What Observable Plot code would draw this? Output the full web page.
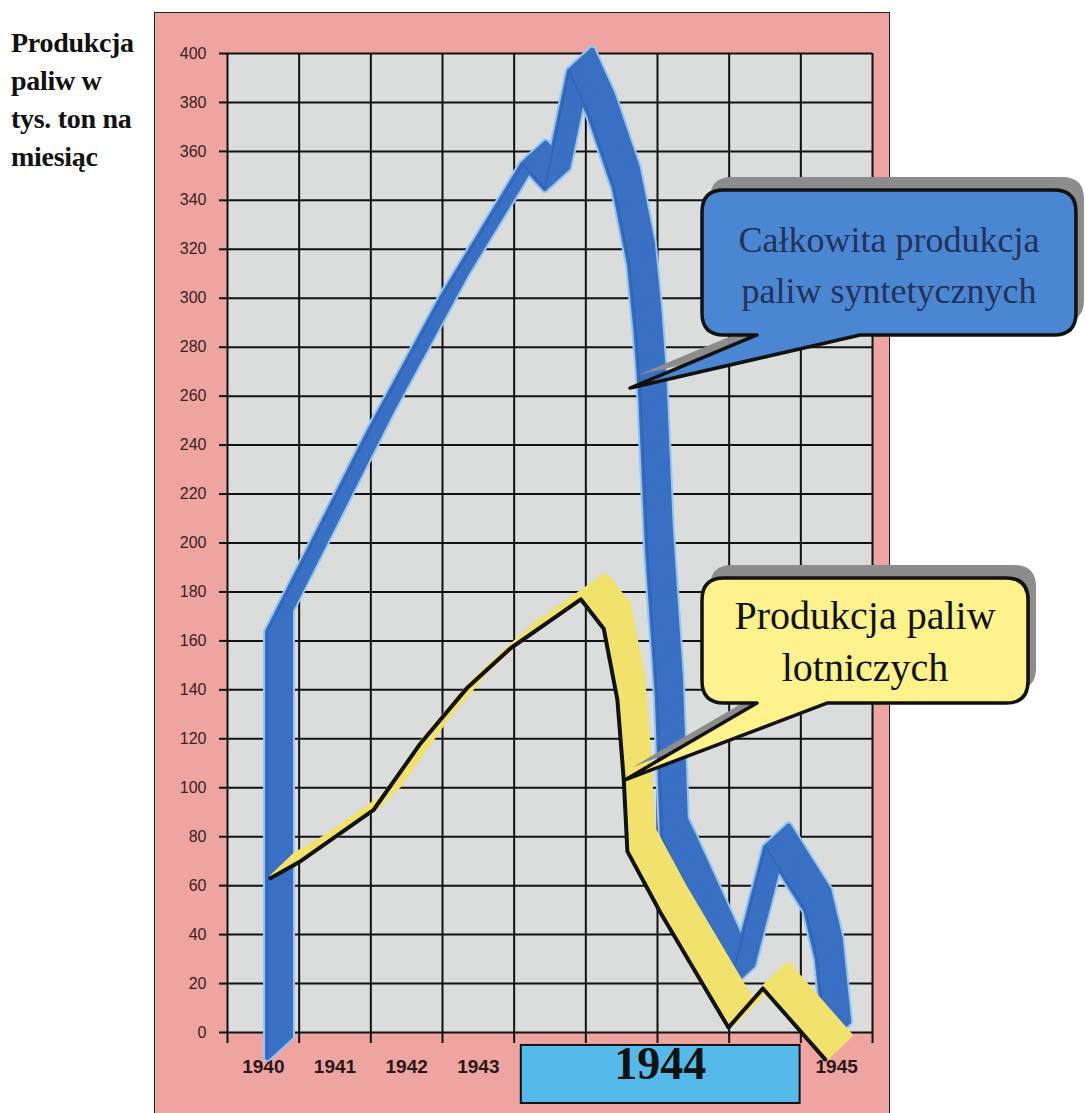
<!DOCTYPE html>
<html><head><meta charset="utf-8">
<script src="https://cdn.jsdelivr.net/npm/d3@7"></script>
<script src="https://cdn.jsdelivr.net/npm/@observablehq/plot@0.6"></script>
<style>
html,body{margin:0;padding:0;background:#fff;overflow:hidden}
#wrap{position:relative;width:1085px;height:1113px}
#panel{position:absolute;left:154px;top:12px;width:734px;height:1120px;background:#eea4a1;border:1.5px solid #222;border-bottom:none}
#title{position:absolute;left:11px;top:24px;font-family:"Liberation Serif",serif;font-weight:bold;font-size:28px;line-height:38px;color:#111;letter-spacing:-0.3px}
#chart{position:absolute;left:0;top:0}
</style></head><body>
<div id="wrap"><div id="panel"></div><div id="title">Produkcja<br>paliw w<br>tys. ton na<br>miesiąc</div><div id="chart"></div></div>
<script>
// x in "column" units: 1940..1943 one column each, 1944 four columns, 1945 one column
const colEdges = [0,1,2,3,4,5,6,7,8,9];
const yTicks = [0,20,40,60,80,100,120,140,160,180,200,220,240,260,280,300,320,340,360,380,400];
const yearLabels = ["1940","1941","1942","1943","1945"];
const yearPos = [0.5,1.5,2.5,3.5,8.5];
const bigYear = "1944";
const bigYearSpan = [4, 8];

// Całkowita produkcja paliw syntetycznych (front edge of ribbon)
const totalX = [0.53,0.53,1.95,2.97,4.09,4.40,4.74,5.02,5.37,5.58,5.67,5.74,5.83,5.97,6.04,6.14,6.98,7.48,8.04,8.20,8.32];
const totalY = [-11,163,245,300,354,344,392,374,344,313,286,258,197,136,78,72,18,75,49,29,-5];
// Produkcja paliw lotniczych
const aviaX = [0.60,1.02,2.04,2.69,3.35,3.95,4.93,5.25,5.44,5.53,5.58,6.04,6.99,7.47,8.34];
const aviaY = [63,70,91,118,141,157,177,165,136,103,74,49,2,18,-11];

const labelTotal = ["Całkowita produkcja", "paliw syntetycznych"];
const labelAvia = ["Produkcja paliw", "lotniczych"];

const total = totalX.map((x,i)=>({x, y: totalY[i]}));
const avia = aviaX.map((x,i)=>({x, y: aviaY[i]}));

function ribbon(data, color, w, x0, y0, x1, y1, n) {
  return d3.range(n+1).map(k => Plot.line(data, {
    x: "x", y: "y", stroke: color, strokeWidth: w,
    strokeLinejoin: "round", strokeLinecap: "round",
    dx: x0 + (x1-x0)*k/n, dy: y0 + (y1-y0)*k/n
  }));
}

const plot = Plot.plot({
  width: 1085, height: 1113,
  marginLeft: 227, marginRight: 213, marginTop: 53, marginBottom: 81,
  x: {domain: [0, 9], label: null},
  y: {domain: [0, 400], label: null},
  style: {background: "transparent", fontFamily: "Liberation Sans, Arial, sans-serif", overflow: "visible"},
  marks: [
    Plot.frame({fill: "#dbdddd", stroke: null}),
    Plot.gridY(yTicks, {stroke: "#111", strokeOpacity: 1, strokeWidth: 2}),
    Plot.gridX(colEdges, {stroke: "#111", strokeOpacity: 1, strokeWidth: 2}),
    Plot.axisY(yTicks, {tickSize: 8, tickPadding: 13, fontSize: 16, fill: "#3a2222", stroke: "#111", strokeWidth: 2, label: null}),
    Plot.axisX(colEdges, {tickSize: 11, tickFormat: () => "", stroke: "#111", strokeWidth: 2, label: null}),
    Plot.text(yearLabels, {x: (d,i) => yearPos[i], text: d => d, frameAnchor: "bottom", dy: 40, fontSize: 19, fontWeight: "bold", fill: "#2a1818", letterSpacing: 1.5}),
    Plot.rect([bigYear], {x1: bigYearSpan[0] + 0.1, x2: bigYearSpan[1] - 0.01, y1: -5.3, y2: -29, fill: "#55b9e9", stroke: "#111", strokeWidth: 2}),
    Plot.text([bigYear], {x: (bigYearSpan[0] + bigYearSpan[1]) / 2 + 0.04, text: d => d, frameAnchor: "bottom", dy: 46, fontSize: 46, fontWeight: "bold", fontFamily: "Liberation Serif", fill: "#111"}),
    ...ribbon(total, "#98c7ee", 9, 2, -2, 25, -23, 12),
    ...ribbon(total, "#3a70c4", 5, 2, -2, 25, -23, 12),
    Plot.line(total, {x: "x", y: "y", stroke: "#2a5aa8", strokeWidth: 1.5, strokeOpacity: 0.6, dx: 2, dy: -2}),
    ...ribbon(avia, "#f0e26c", 5, 2, -2, 25, -24, 12),
    Plot.line(avia, {x: "x", y: "y", stroke: "#111", strokeWidth: 4, strokeLinejoin: "round", strokeLinecap: "round"})
  ]
});
document.getElementById("chart").appendChild(plot);

// callouts placed through the plot's scales
const sx = plot.scale("x"), sy = plot.scale("y");
const X = u => sx.apply(u), Y = v => sy.apply(v);
function bubblePath(L, T, R, B, r, p1, p2, tx, ty) {
  return `M${L+r},${T} H${R-r} Q${R},${T} ${R},${T+r} V${B-r} Q${R},${B} ${R-r},${B} H${p2} L${tx},${ty} L${p1},${B} H${L+r} Q${L},${B} ${L},${B-r} V${T+r} Q${L},${T} ${L+r},${T} Z`;
}
function callout(c) {
  const L = X(c.left), R = X(c.right), T = Y(c.top), B = Y(c.bottom);
  const p1 = X(c.p1), p2 = X(c.p2), tx = X(c.tipX), ty = Y(c.tipY);
  const g = d3.select(plot).append("g");
  g.append("path").attr("d", bubblePath(L, T, R, B, 22, p1, p2, tx, ty))
    .attr("transform", "translate(8,-13)").attr("fill", "#8c8c8c");
  g.append("path").attr("d", bubblePath(L, T, R, B, 22, p1, p2, tx, ty))
    .attr("fill", c.fill).attr("stroke", "#111").attr("stroke-width", 3.5).attr("stroke-linejoin", "round");
  c.lines.forEach((t, i) => {
    g.append("text").attr("x", (L + R) / 2).attr("y", T + c.base + i * c.gap)
      .attr("text-anchor", "middle").attr("font-family", "Liberation Serif, serif")
      .attr("font-size", c.size).attr("fill", c.color).text(t);
  });
}
callout({left: 6.628, right: 11.846, top: 344.0, bottom: 284.8, p1: 7.395, p2: 8.833, tipX: 5.623, tipY: 263.1,
  fill: "#4a86d2", color: "#22325a", lines: labelTotal, size: 36, base: 62, gap: 51});
callout({left: 6.628, right: 11.177, top: 185.5, bottom: 134.4, p1: 7.395, p2: 8.372, tipX: 5.553, tipY: 103.0,
  fill: "#fdf28c", color: "#111", lines: labelAvia, size: 40, base: 51, gap: 52});
</script>
</body></html>
